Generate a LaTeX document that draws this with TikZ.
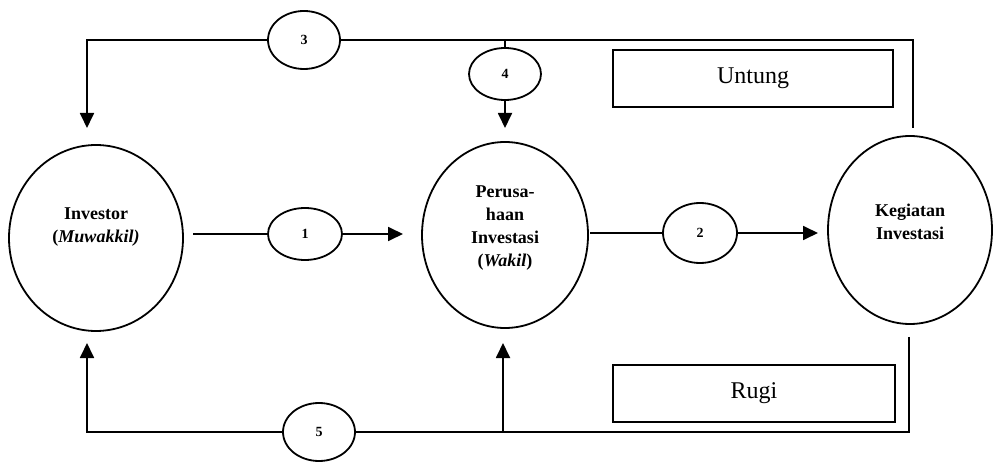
\documentclass[tikz,border=0pt]{standalone}
\usepackage{fontspec}
\setmainfont{Liberation Serif}
\usetikzlibrary{shapes.geometric,arrows.meta}
\begin{document}
\begin{tikzpicture}[x=1pt,y=-1pt,
  party/.style={ellipse,draw,line width=1.8pt,inner sep=0pt},
  tag/.style={ellipse,draw,line width=1.8pt,inner sep=0pt,fill=white,
    font=\bfseries\fontsize{14}{16}\selectfont},
  caption/.style={font=\bfseries\fontsize{18}{23}\selectfont,align=center},
  result/.style={draw,line width=1.8pt,minimum height=57pt,
    font=\fontsize{24}{28}\selectfont},
  flow/.style={line width=1.8pt},
  tip/.style={-{Triangle[width=14pt,length=15pt]}}]
\useasboundingbox (0,0) rectangle (996,462);

% parties
\node[party,minimum width=174pt,minimum height=186pt] (inv) at (96,238) {};
\node[party,minimum width=166pt,minimum height=186pt] (per) at (505,235) {};
\node[party,minimum width=164pt,minimum height=188pt] (keg) at (910,230) {};
\node[caption] (invtxt) at (96,227) {Investor\\(\textit{Muwakkil)}};
\node[caption] (pertxt) at (505,228) {Perusa-\\haan\\Investasi\\(\textit{Wakil})};
\node[caption] (kegtxt) at (910,222) {Kegiatan\\Investasi};

% outcome boxes
\node[result,minimum width=280pt] (untung) at (753,78.5) {Untung};
\node[result,minimum width=282pt] (rugi) at (754,393.5) {Rugi};

% free ends of the connectors
\coordinate (a1) at (193,234);
\coordinate (b1) at (403,234);
\coordinate (a2) at (590,233);
\coordinate (b2) at (818,233);
\coordinate (c3a) at (913,128);
\coordinate (c3b) at (87,128);
\coordinate (j4) at (505,40);
\coordinate (b4) at (505,128);
\coordinate (c5a) at (909,337);
\coordinate (c5b) at (87,343);
\coordinate (j5) at (503,432);
\coordinate (b5) at (503,343);

% step labels
\node[tag,minimum width=74pt,minimum height=52pt] (t1) at (305,234) {1};
\node[tag,minimum width=74pt,minimum height=60pt] (t2) at (700,233) {2};
\node[tag,minimum width=72pt,minimum height=58pt] (t3) at (304,40) {3};
\node[tag,minimum width=72pt,minimum height=52pt] (t4) at (505,74) {4};
\node[tag,minimum width=72pt,minimum height=58pt] (t5) at (319,432) {5};

% flows
\draw[flow] (a1) -- (t1);
\draw[flow,tip] (t1) -- (b1);
\draw[flow] (a2) -- (t2);
\draw[flow,tip] (t2) -- (b2);
\draw[flow] (c3a) |- (t3);
\draw[flow,tip] (t3) -| (c3b);
\draw[flow] (j4) -- (t4);
\draw[flow,tip] (t4) -- (b4);
\draw[flow] (c5a) |- (t5);
\draw[flow,tip] (t5) -| (c5b);
\draw[flow,tip] (j5) -- (b5);
\end{tikzpicture}
\end{document}
